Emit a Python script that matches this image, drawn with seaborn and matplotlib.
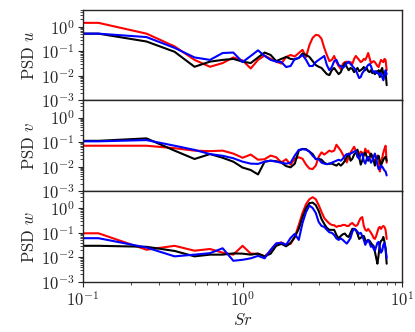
import numpy as np
import pandas as pd
import matplotlib
matplotlib.use("Agg")
import matplotlib.pyplot as plt
import seaborn as sns

# frequency bins (Strouhal number), df = 0.125
sr = np.arange(1, 65) * 0.125

# log10 of the PSD
u_red = [0.16, -0.28, -0.80, -1.35, -1.63, -1.48, -1.25, -1.37, -1.70, -1.35,
         -1.17, -1.31, -1.42, -1.50, -1.23, -1.15, -1.21, -1.07, -0.94, -1.23,
         -0.74, -0.45, -0.33, -0.35, -0.49, -0.86, -1.15, -1.40, -1.35, -1.19,
         -1.44, -1.60, -1.72, -1.52, -1.44, -1.42, -1.48, -1.44, -1.52, -1.31,
         -1.19, -1.27, -1.35, -1.44, -1.40, -1.31, -1.35, -1.23, -1.07, -1.27,
         -1.48, -1.44, -1.40, -1.44, -1.52, -1.60, -1.64, -1.48, -1.35, -1.40,
         -1.44, -1.31, -1.35, -1.77]
u_blue = [-0.28, -0.42, -0.86, -1.25, -1.35, -1.07, -1.05, -1.44, -1.19, -0.96,
          -1.19, -1.35, -1.42, -1.44, -1.64, -1.60, -1.31, -1.27, -1.15, -1.35,
          -1.60, -1.60, -1.44, -1.35, -1.27, -1.19, -1.56, -1.77, -1.64, -1.40,
          -1.35, -1.56, -1.60, -1.68, -1.60, -1.48, -1.42, -1.52, -1.60, -1.68,
          -1.77, -1.93, -2.09, -2.05, -1.89, -1.81, -1.72, -1.64, -1.56, -1.52,
          -1.60, -1.77, -1.85, -1.81, -1.89, -1.85, -1.93, -1.97, -1.89, -2.05,
          -2.18, -1.97, -1.77, -1.93]
u_black = [-0.28, -0.60, -1.02, -1.63, -1.42, -1.35, -1.31, -1.42, -1.48, -1.25,
           -1.05, -1.15, -1.40, -1.31, -1.23, -1.31, -1.33, -1.27, -1.09, -1.15,
           -1.23, -1.40, -1.56, -1.63, -1.68, -1.81, -1.93, -1.97, -1.77, -1.68,
           -1.81, -1.93, -1.85, -1.64, -1.48, -1.64, -1.77, -1.68, -1.72, -1.85,
           -1.77, -1.68, -1.81, -1.77, -1.72, -1.64, -1.77, -1.68, -1.81, -1.85,
           -1.77, -1.89, -1.85, -1.93, -1.81, -1.89, -1.77, -2.05, -1.77, -1.68,
           -1.93, -2.01, -1.85, -2.38]

v_red = [-1.15, -1.15, -1.25, -1.35, -1.37, -1.35, -1.47, -1.64, -1.51, -1.72,
         -1.70, -1.55, -1.62, -1.83, -1.70, -1.92, -1.68, -1.62, -1.68, -1.92,
         -2.08, -2.10, -1.96, -1.60, -1.42, -1.51, -1.43, -1.35, -1.39, -1.35,
         -1.11, -1.23, -1.35, -1.51, -1.68, -1.83, -1.60, -1.43, -1.31, -1.19,
         -1.35, -1.60, -1.47, -1.39, -1.43, -1.55, -1.27, -1.43, -1.35, -1.47,
         -1.55, -1.64, -1.72, -1.76, -1.64, -1.55, -1.68, -2.20, -1.96, -1.64,
         -1.43, -1.27, -1.15, -1.84]
v_blue = [-0.97, -0.92, -1.15, -1.32, -1.49, -1.56, -1.66, -1.80, -1.88, -1.89,
          -1.80, -1.76, -1.80, -1.84, -1.88, -1.84, -1.55, -1.32, -1.29, -1.31,
          -1.39, -1.56, -1.68, -1.70, -1.84, -1.88, -1.90, -1.88, -1.84, -1.80,
          -1.76, -1.72, -1.76, -1.68, -1.56, -1.49, -1.51, -1.47, -1.43, -1.39,
          -1.35, -1.60, -1.68, -1.51, -1.47, -1.76, -1.88, -1.68, -1.60, -1.68,
          -1.84, -1.76, -1.60, -1.47, -1.68, -1.92, -2.11, -2.07, -1.96, -2.00,
          -2.08, -2.16, -2.20, -2.36]
v_black = [-0.95, -0.85, -1.35, -1.69, -1.49, -1.64, -1.80, -2.04, -2.14, -2.32,
           -1.80, -1.76, -1.78, -1.84, -1.98, -2.03, -1.88, -1.35, -1.28, -1.29,
           -1.39, -1.49, -1.70, -1.68, -1.72, -1.84, -1.90, -1.88, -1.88, -1.92,
           -1.96, -1.88, -1.96, -1.88, -1.76, -1.60, -1.47, -1.76, -1.68, -1.51,
           -1.43, -1.31, -1.60, -1.92, -1.76, -1.51, -1.43, -1.60, -1.76, -1.64,
           -1.47, -1.56, -1.76, -1.96, -1.76, -1.64, -1.56, -1.76, -1.92, -1.84,
           -1.72, -1.64, -1.60, -1.76]

w_red = [-1.02, -1.69, -1.53, -1.73, -1.66, -1.81, -1.89, -1.53, -1.85, -1.85,
         -1.96, -1.73, -1.45, -1.39, -1.49, -1.45, -1.17, -0.68, -0.19, 0.17,
         0.37, 0.45, 0.37, 0.13, -0.15, -0.40, -0.52, -0.62, -0.68, -0.69,
         -0.76, -0.72, -0.72, -0.68, -0.68, -0.72, -0.72, -0.64, -0.60, -0.68,
         -0.72, -0.68, -0.52, -0.40, -0.36, -0.72, -0.88, -0.92, -0.84, -0.92,
         -1.00, -1.09, -1.21, -1.25, -1.13, -0.96, -0.80, -0.76, -0.84, -0.76,
         -0.72, -0.76, -0.88, -1.25]
w_blue = [-1.22, -1.60, -1.96, -1.89, -1.83, -1.63, -2.14, -2.10, -2.04, -1.94,
          -2.04, -1.69, -1.43, -1.41, -1.49, -1.21, -1.04, -1.29, -0.60, -0.15,
          0.11, 0.01, -0.19, -0.56, -0.72, -0.76, -0.88, -0.98, -1.00, -1.09,
          -1.23, -1.29, -1.23, -1.29, -1.37, -1.44, -1.33, -1.21, -0.96, -0.84,
          -0.88, -0.96, -1.04, -1.00, -1.13, -1.29, -1.49, -1.37, -1.29, -1.41,
          -1.57, -1.53, -1.65, -1.73, -1.57, -1.41, -1.37, -1.61, -1.81, -1.73,
          -1.49, -1.41, -1.65, -2.02]
w_black = [-1.53, -1.57, -1.74, -1.96, -1.89, -1.89, -1.84, -1.85, -1.89, -1.85,
           -1.96, -1.85, -1.53, -1.45, -1.55, -1.41, -1.17, -0.84, -0.36, 0.01,
           0.21, 0.23, 0.13, -0.11, -0.44, -0.64, -0.80, -0.88, -0.88, -0.88,
           -1.09, -1.23, -1.13, -1.06, -1.03, -1.13, -1.17, -1.00, -0.84, -0.84,
           -0.88, -1.04, -1.25, -1.21, -1.13, -1.13, -1.29, -1.37, -1.29, -1.33,
           -1.41, -1.49, -1.53, -1.77, -2.02, -2.26, -1.89, -1.45, -1.33, -1.29,
           -1.17, -1.37, -1.65, -2.26]

components = ["u", "v", "w"]
series = {
    "u": [("red", u_red), ("black", u_black), ("blue", u_blue)],
    "v": [("red", v_red), ("black", v_black), ("blue", v_blue)],
    "w": [("red", w_red), ("black", w_black), ("blue", w_blue)],
}

sns.set_style("ticks")
plt.rcParams["font.family"] = "serif"
plt.rcParams["font.serif"] = ["cmr10", "DejaVu Serif"]
plt.rcParams["mathtext.fontset"] = "cm"
plt.rcParams["axes.formatter.use_mathtext"] = True
plt.rcParams["font.size"] = 12
plt.rcParams["axes.linewidth"] = 1.0

fig, axes = plt.subplots(3, 1, figsize=(4.15, 3.32), dpi=100, sharex=True)
fig.subplots_adjust(left=0.2, right=0.969, top=0.971, bottom=0.151, hspace=0)

# first bin held back to the left edge so the spectra start at the axis
x = np.concatenate([[0.0625], sr])
for ax, comp in zip(axes, components):
    for color, logpsd in series[comp]:
        y = 10 ** np.array(logpsd)
        y = np.concatenate([[y[0]], y])
        sns.lineplot(x=x, y=y, color=color, lw=1.5, estimator=None,
                     sort=False, ax=ax)
    ax.set_xscale("log")
    ax.set_yscale("log")
    ax.set_xlim(0.1, 10)
    ax.set_ylim(1e-3, 5)
    ax.set_yticks([1e-3, 1e-2, 1e-1, 1e0])
    ax.set_ylabel(r"PSD $%s$" % comp, labelpad=3)
    ax.tick_params(which="both", direction="out", top=False, right=False,
                   pad=2.5)
    for s in ax.spines.values():
        s.set_visible(True)

axes[-1].set_xlabel(r"$Sr$", labelpad=2)

fig.savefig("out.png", dpi=100)
